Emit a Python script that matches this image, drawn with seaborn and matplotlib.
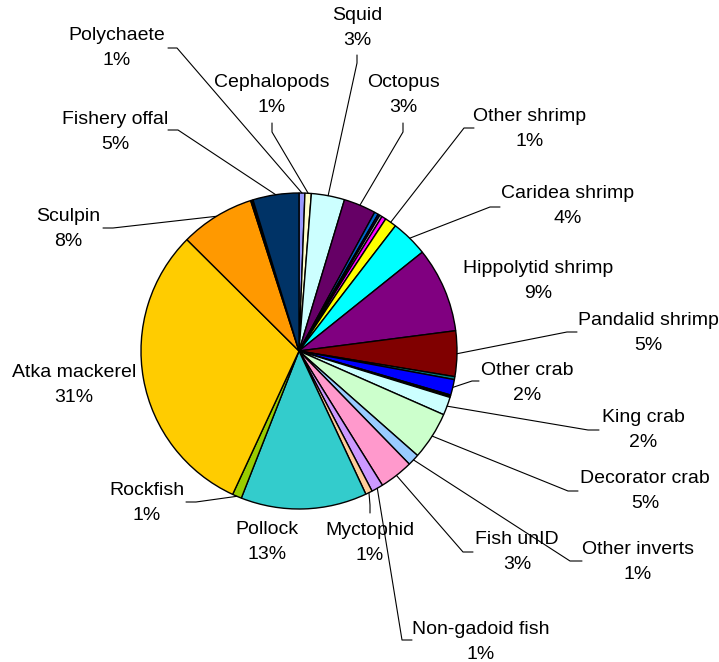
import numpy as np
import matplotlib
matplotlib.use("Agg")
import matplotlib.pyplot as plt
import seaborn as sns

# diet composition, slices clockwise from 12 o'clock ("" = tiny unlabeled slice)
prey = ["Polychaete", "Cephalopods", "Squid", "Octopus", "", "", "", "",
        "Other shrimp", "Caridea shrimp", "Hippolytid shrimp", "Pandalid shrimp",
        "", "Other crab", "", "King crab", "Decorator crab", "Other inverts",
        "Fish unID", "Non-gadoid fish", "Myctophid", "Pollock", "Rockfish",
        "Atka mackerel", "Sculpin", "", "Fishery offal"]
share = [0.6, 0.65, 3.4, 3.3, 0.4, 0.2, 0.25, 0.45,
         1.2, 3.8, 8.7, 4.65,
         0.3, 1.6, 0.25, 1.85, 4.9, 1.2,
         3.45, 1.2, 0.7, 12.9, 0.95,
         30.55, 7.6, 0.25, 4.7]
colors = ["#9999FF", "#FFFFCC", "#CCFFFF", "#660066", "#0066CC", "#000080", "#C0C0C0", "#FF00FF",
          "#FFFF00", "#00FFFF", "#800080", "#800000",
          "#008080", "#0000FF", "#000000", "#CCFFFF", "#CCFFCC", "#99CCFF",
          "#FF99CC", "#CC99FF", "#FFCC99", "#33CCCC", "#99CC00",
          "#FFCC00", "#FF9900", "#000000", "#003366"]

W, H = 719, 662

# label centres in pixels (y down)
label_pos = {
    "Squid": (357, 28), "Polychaete": (117, 48), "Cephalopods": (272, 95),
    "Octopus": (403, 95), "Other shrimp": (530, 129), "Fishery offal": (115, 132),
    "Caridea shrimp": (568, 206), "Sculpin": (68, 229), "Hippolytid shrimp": (538, 281),
    "Pandalid shrimp": (648, 333), "Atka mackerel": (74, 385), "Other crab": (527, 383),
    "King crab": (643, 430), "Decorator crab": (645, 491), "Rockfish": (147, 503),
    "Pollock": (267, 542), "Myctophid": (370, 543), "Fish unID": (517, 552),
    "Other inverts": (638, 562), "Non-gadoid fish": (481, 642),
}
# leader line elbow and end (pixels)
leaders = {
    "Polychaete": ((177, 48), (168, 48)), "Cephalopods": ((272, 132), (272, 123)),
    "Squid": ((357, 63), (357, 55)), "Octopus": ((403, 132), (403, 123)),
    "Other shrimp": ((464, 128), (474, 128)), "Fishery offal": ((178, 130), (168, 130)),
    "Caridea shrimp": ((490, 207), (500, 207)), "Sculpin": ((113, 228), (103, 228)),
    "Pandalid shrimp": ((567, 332), (577, 332)), "Other crab": ((472, 381), (479, 381)),
    "King crab": ((588, 430), (599, 430)), "Decorator crab": ((568, 491), (578, 491)),
    "Other inverts": ((570, 561), (582, 561)), "Fish unID": ((463, 552), (473, 552)),
    "Non-gadoid fish": ((402, 640), (412, 640)), "Myctophid": ((370, 505), (370, 513)),
    "Rockfish": ((196, 502), (186, 502)),
}

sns.set_theme(style="white")
plt.rcParams['font.family'] = ['Liberation Sans', 'DejaVu Sans']

fig = plt.figure(figsize=(W / 100, H / 100), dpi=100)
ax = fig.add_axes([0, 0, 1, 1])
wedges, _ = ax.pie(share, colors=sns.color_palette(colors), startangle=90, counterclock=False,
                   center=(299, H - 351), radius=158,
                   wedgeprops=dict(edgecolor="black", linewidth=1.0))
ax.set_xlim(0, W)
ax.set_ylim(0, H)
ax.set_aspect("equal")
ax.axis("off")

for w, name, v in zip(wedges, prey, share):
    if not name:
        continue
    tx, ty = label_pos[name]
    ax.text(tx, H - ty, f"{name}\n{v:.0f}%", ha="center", va="center",
            fontsize=14, linespacing=1.62, color="black")
    if name in leaders:
        mid = np.deg2rad((w.theta1 + w.theta2) / 2)
        x0 = w.center[0] + w.r * np.cos(mid)
        y0 = w.center[1] + w.r * np.sin(mid)
        (ex, ey), (fx, fy) = leaders[name]
        ax.plot([x0, ex, fx], [y0, H - ey, H - fy], color="black", lw=0.8)

fig.savefig("out.png", dpi=100)
